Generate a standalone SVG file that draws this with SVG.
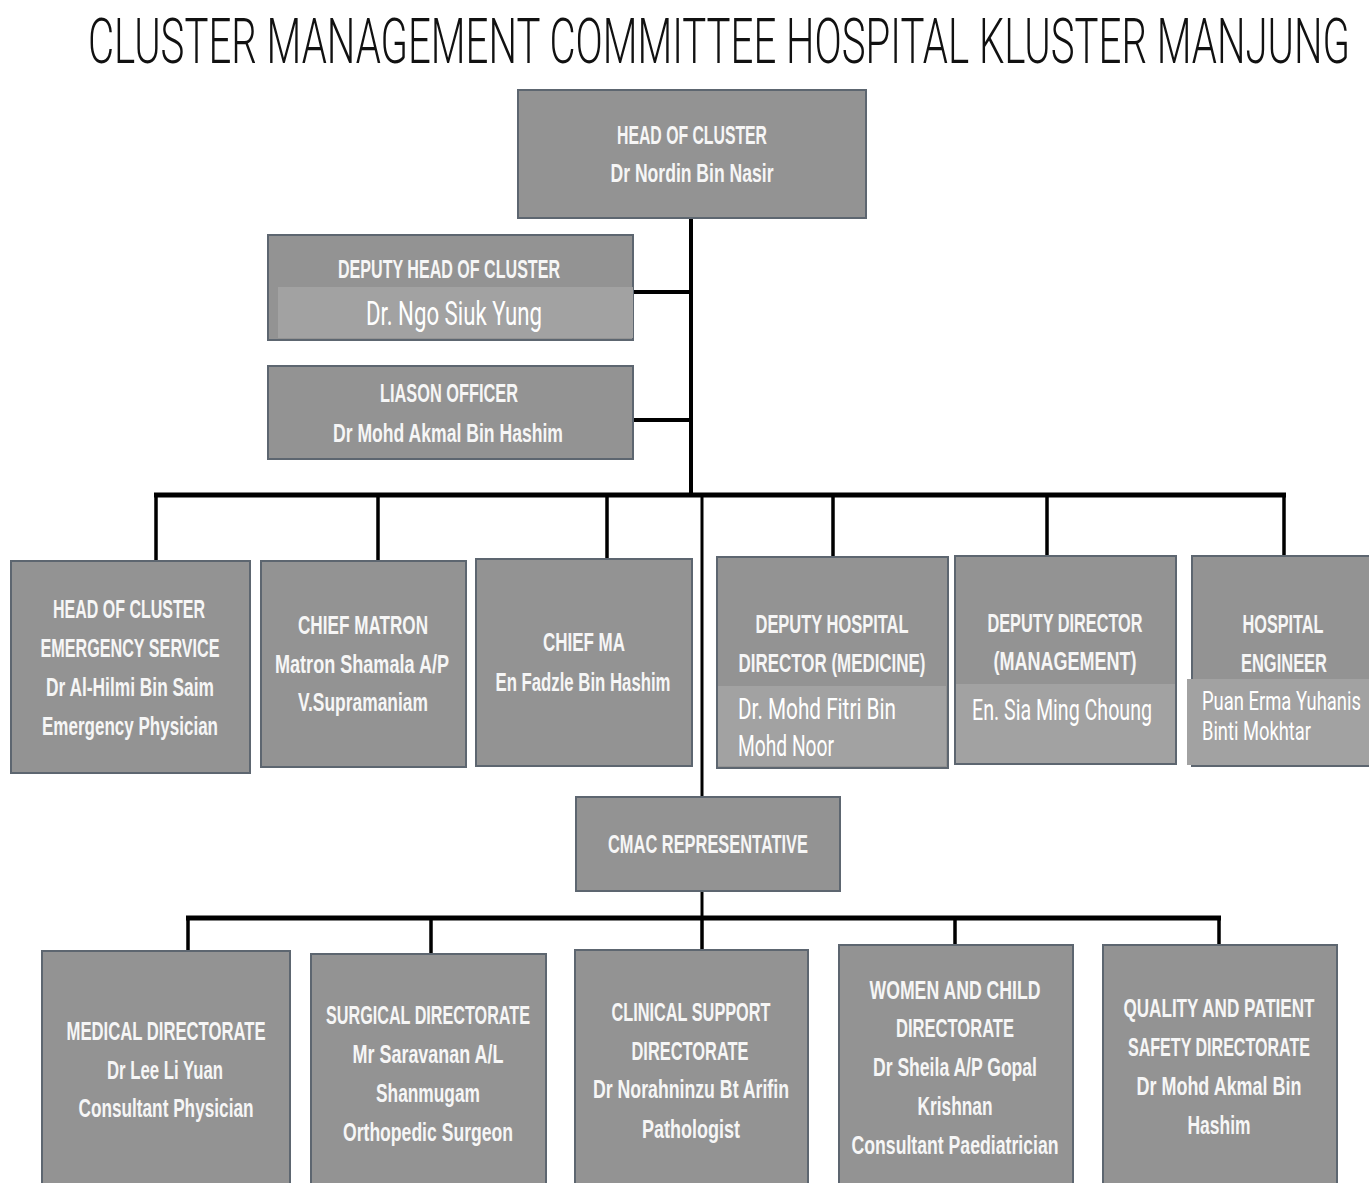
<svg xmlns="http://www.w3.org/2000/svg" width="1369" height="1183" viewBox="0 0 1369 1183">
<style>
.box{fill:#939393;stroke:#5d6670;stroke-width:2}
.band{fill:#a2a2a2}
.t{font-family:"Liberation Sans",Arial,sans-serif;font-weight:bold;font-size:25px;fill:#f6f6f6;text-anchor:middle}
.n{font-family:Roboto,"Liberation Sans",sans-serif;font-weight:400;fill:#fff}
.ln{stroke:#000;fill:none;stroke-linecap:butt}
</style>
<rect width="1369" height="1183" fill="#fff"/>
<text x="88" y="63" font-family="Roboto,'Liberation Sans',sans-serif" font-weight="300" font-size="63" fill="#111" textLength="1262" lengthAdjust="spacingAndGlyphs">CLUSTER MANAGEMENT COMMITTEE HOSPITAL KLUSTER MANJUNG</text>

<g id="connectors">
<path class="ln" stroke-width="4" d="M691 218V497M633 292H691M633 420H691"/>
<path class="ln" stroke-width="5" d="M154 495H1286"/>
<path class="ln" stroke-width="3.5" d="M156 495V562M378 495V561M607 495V559M833 495V557M1047 495V556M1284 495V556"/>
<path class="ln" stroke-width="3" d="M702 495V797"/>
<path class="ln" stroke-width="3" d="M702 891V918"/>
<path class="ln" stroke-width="5" d="M186 918H1221"/>
<path class="ln" stroke-width="3.5" d="M188 918V951M431 918V954M702 918V950M955 918V945M1219 918V945"/>
</g>

<g id="head">
<rect class="box" x="518" y="90" width="348" height="128"/>
<text class="t" x="692" y="144" textLength="150" lengthAdjust="spacingAndGlyphs">HEAD OF CLUSTER</text>
<text class="t" x="692" y="182" textLength="163" lengthAdjust="spacingAndGlyphs">Dr Nordin Bin Nasir</text>
</g>

<g id="deputy-head">
<rect class="box" x="268" y="235" width="365" height="105"/>
<rect class="band" x="278" y="287" width="355" height="51"/>
<text class="t" x="449" y="278" textLength="222" lengthAdjust="spacingAndGlyphs">DEPUTY HEAD OF CLUSTER</text>
<text class="n" x="366" y="325" font-size="33" textLength="176" lengthAdjust="spacingAndGlyphs">Dr. Ngo Siuk Yung</text>
</g>

<g id="liaison">
<rect class="box" x="268" y="366" width="365" height="93"/>
<text class="t" x="449" y="402" textLength="138" lengthAdjust="spacingAndGlyphs">LIASON OFFICER</text>
<text class="t" x="448" y="442" textLength="230" lengthAdjust="spacingAndGlyphs">Dr Mohd Akmal Bin Hashim</text>
</g>

<g id="emergency">
<rect class="box" x="11" y="561" width="239" height="212"/>
<text class="t" x="129" y="618" textLength="152" lengthAdjust="spacingAndGlyphs">HEAD OF CLUSTER</text>
<text class="t" x="130" y="657" textLength="179" lengthAdjust="spacingAndGlyphs">EMERGENCY SERVICE</text>
<text class="t" x="130" y="696" textLength="168" lengthAdjust="spacingAndGlyphs">Dr Al-Hilmi Bin Saim</text>
<text class="t" x="130" y="735" textLength="176" lengthAdjust="spacingAndGlyphs">Emergency Physician</text>
</g>

<g id="chief-matron">
<rect class="box" x="261" y="561" width="205" height="206"/>
<text class="t" x="363" y="634" textLength="130" lengthAdjust="spacingAndGlyphs">CHIEF MATRON</text>
<text class="t" x="362" y="673" textLength="174" lengthAdjust="spacingAndGlyphs">Matron Shamala A/P</text>
<text class="t" x="363" y="711" textLength="130" lengthAdjust="spacingAndGlyphs">V.Supramaniam</text>
</g>

<g id="chief-ma">
<rect class="box" x="476" y="559" width="216" height="207"/>
<text class="t" x="584" y="651" textLength="82" lengthAdjust="spacingAndGlyphs">CHIEF MA</text>
<text class="t" x="583" y="691" textLength="175" lengthAdjust="spacingAndGlyphs">En Fadzle Bin Hashim</text>
</g>

<g id="deputy-hospital-director">
<rect class="box" x="717" y="557" width="231" height="211"/>
<rect class="band" x="718" y="686" width="228" height="80"/>
<text class="t" x="832" y="633" textLength="153" lengthAdjust="spacingAndGlyphs">DEPUTY HOSPITAL</text>
<text class="t" x="832" y="672" textLength="187" lengthAdjust="spacingAndGlyphs">DIRECTOR (MEDICINE)</text>
<text class="n" x="738" y="719" font-size="29" textLength="158" lengthAdjust="spacingAndGlyphs">Dr. Mohd Fitri Bin</text>
<text class="n" x="738" y="756" font-size="29" textLength="96" lengthAdjust="spacingAndGlyphs">Mohd Noor</text>
</g>

<g id="deputy-director-management">
<rect class="box" x="955" y="556" width="221" height="208"/>
<rect class="band" x="956" y="684" width="219" height="79"/>
<text class="t" x="1065" y="632" textLength="155" lengthAdjust="spacingAndGlyphs">DEPUTY DIRECTOR</text>
<text class="t" x="1065" y="670" textLength="143" lengthAdjust="spacingAndGlyphs">(MANAGEMENT)</text>
<text class="n" x="972" y="720" font-size="29" textLength="180" lengthAdjust="spacingAndGlyphs">En. Sia Ming Choung</text>
</g>

<g id="hospital-engineer">
<rect class="box" x="1192" y="556" width="180" height="210"/>
<rect class="band" x="1187" y="679" width="182" height="86"/>
<text class="t" x="1283" y="633" textLength="81" lengthAdjust="spacingAndGlyphs">HOSPITAL</text>
<text class="t" x="1284" y="672" textLength="86" lengthAdjust="spacingAndGlyphs">ENGINEER</text>
<text class="n" x="1202" y="710" font-size="26" textLength="159" lengthAdjust="spacingAndGlyphs">Puan Erma Yuhanis</text>
<text class="n" x="1202" y="740" font-size="26" textLength="109" lengthAdjust="spacingAndGlyphs">Binti Mokhtar</text>
</g>

<g id="cmac">
<rect class="box" x="576" y="797" width="264" height="94"/>
<text class="t" x="708" y="853" textLength="200" lengthAdjust="spacingAndGlyphs">CMAC REPRESENTATIVE</text>
</g>

<g id="medical">
<rect class="box" x="42" y="951" width="248" height="240"/>
<text class="t" x="166" y="1040" textLength="199" lengthAdjust="spacingAndGlyphs">MEDICAL DIRECTORATE</text>
<text class="t" x="165" y="1079" textLength="116" lengthAdjust="spacingAndGlyphs">Dr Lee Li Yuan</text>
<text class="t" x="166" y="1117" textLength="175" lengthAdjust="spacingAndGlyphs">Consultant Physician</text>
</g>

<g id="surgical">
<rect class="box" x="311" y="954" width="235" height="240"/>
<text class="t" x="428" y="1024" textLength="204" lengthAdjust="spacingAndGlyphs">SURGICAL DIRECTORATE</text>
<text class="t" x="428" y="1063" textLength="151" lengthAdjust="spacingAndGlyphs">Mr Saravanan A/L</text>
<text class="t" x="428" y="1102" textLength="104" lengthAdjust="spacingAndGlyphs">Shanmugam</text>
<text class="t" x="428" y="1141" textLength="170" lengthAdjust="spacingAndGlyphs">Orthopedic Surgeon</text>
</g>

<g id="clinical-support">
<rect class="box" x="575" y="950" width="233" height="240"/>
<text class="t" x="691" y="1021" textLength="159" lengthAdjust="spacingAndGlyphs">CLINICAL SUPPORT</text>
<text class="t" x="690" y="1060" textLength="117" lengthAdjust="spacingAndGlyphs">DIRECTORATE</text>
<text class="t" x="691" y="1098" textLength="196" lengthAdjust="spacingAndGlyphs">Dr Norahninzu Bt Arifin</text>
<text class="t" x="691" y="1138" textLength="98" lengthAdjust="spacingAndGlyphs">Pathologist</text>
</g>

<g id="women-child">
<rect class="box" x="839" y="945" width="234" height="245"/>
<text class="t" x="955" y="999" textLength="171" lengthAdjust="spacingAndGlyphs">WOMEN AND CHILD</text>
<text class="t" x="955" y="1037" textLength="118" lengthAdjust="spacingAndGlyphs">DIRECTORATE</text>
<text class="t" x="955" y="1076" textLength="164" lengthAdjust="spacingAndGlyphs">Dr Sheila A/P Gopal</text>
<text class="t" x="955" y="1115" textLength="75" lengthAdjust="spacingAndGlyphs">Krishnan</text>
<text class="t" x="955" y="1154" textLength="207" lengthAdjust="spacingAndGlyphs">Consultant Paediatrician</text>
</g>

<g id="quality">
<rect class="box" x="1103" y="945" width="234" height="245"/>
<text class="t" x="1219" y="1017" textLength="191" lengthAdjust="spacingAndGlyphs">QUALITY AND PATIENT</text>
<text class="t" x="1219" y="1056" textLength="182" lengthAdjust="spacingAndGlyphs">SAFETY DIRECTORATE</text>
<text class="t" x="1219" y="1095" textLength="165" lengthAdjust="spacingAndGlyphs">Dr Mohd Akmal Bin</text>
<text class="t" x="1219" y="1134" textLength="63" lengthAdjust="spacingAndGlyphs">Hashim</text>
</g>
</svg>
